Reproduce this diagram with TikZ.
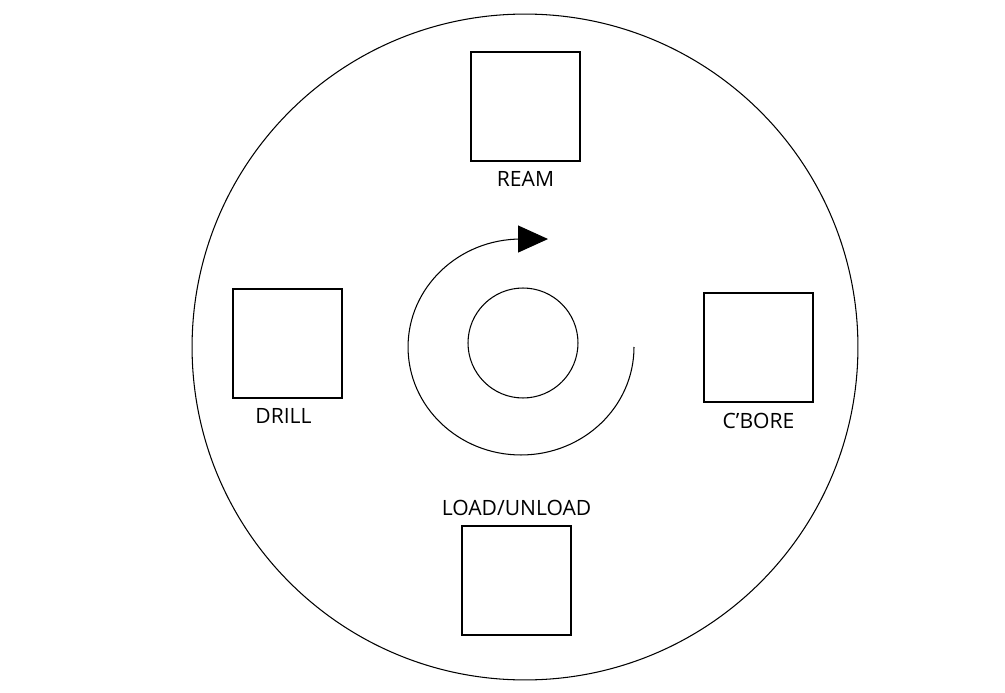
\documentclass[tikz,border=0pt]{standalone}
\usepackage{fontspec}
\setmainfont{Open Sans}
\usepackage{tikz}
\usetikzlibrary{arrows.meta,positioning}
\tikzset{
      station/.style = {draw, line width=0.6pt, minimum size=2.18cm, inner sep=0pt},
      stationlabel/.style = {inner sep=0pt, font=\fontsize{12}{14}\selectfont},
      turn/.style = {black, line width=0.6pt, -{Triangle[length=0.6cm,width=0.54cm]}},
    }

\begin{document}
\begin{tikzpicture}[x=0.02cm,y=-0.02cm]
        \useasboundingbox (0,0) rectangle (1005,693);
        \node[circle, draw, line width=0.6pt, minimum size=13.32cm, inner sep=0pt] (table) at (525,347) {};
        \node[circle, draw, line width=0.6pt, minimum size=2.2cm, inner sep=0pt] (hub) at (523,343) {};

        \node[station] (ream) at (525.5,106.5) {};
        \node[station] (drill) at (287.5,343.5) {};
        \node[station] (cbore) at (758.5,347.5) {};
        \node[station] (load) at (516.5,580.5) {};

        \node[stationlabel, below=0.2cm of ream] (reamlbl) {REAM};
        \node[stationlabel, below=0.2cm of drill, xshift=-0.08cm] (drilllbl) {DRILL};
        \node[stationlabel, below=0.2cm of cbore] (cborelbl) {C’BORE};
        \node[stationlabel, above=0.18cm of load] (loadlbl) {LOAD/UNLOAD};

        % index direction
        \coordinate (arcstart) at (634,347);
        \draw[turn] (arcstart) arc[start angle=0, end angle=-270, x radius=2.26cm, y radius=2.16cm] -- ++(0.54cm,0);
\end{tikzpicture}
\end{document}
